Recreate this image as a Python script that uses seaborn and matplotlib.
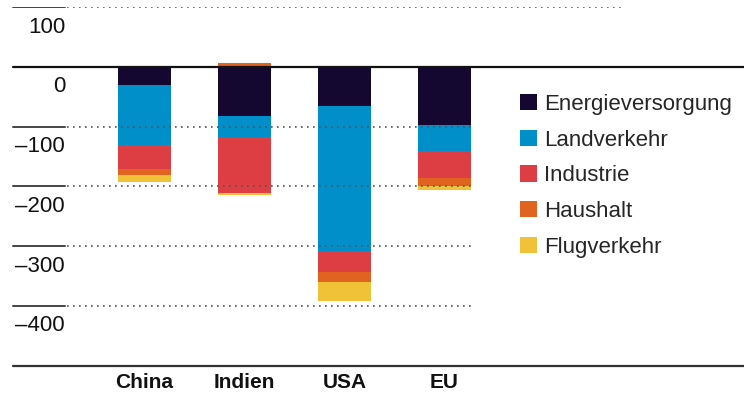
import numpy as np
import matplotlib
matplotlib.use("Agg")
import matplotlib.pyplot as plt
import matplotlib.transforms as mtransforms
from matplotlib.patches import Patch
import seaborn as sns

# data (Mio. t CO2, change per region)
regions = ["China", "Indien", "USA", "EU"]
sectors = ["Energieversorgung", "Landverkehr", "Industrie", "Haushalt", "Flugverkehr"]
energie = [-31, -82, -65, -97]
landverkehr = [-100, -36, -243, -44]
industrie = [-40, -93, -35, -45]
haushalt = [-10, 6, -17, -14]
flugverkehr = [-11, -3, -31, -6]
colors = ["#150830", "#008fc8", "#dd3e44", "#e0641f", "#f0c238"]
ytick_values = [100, 0, -100, -200, -300, -400]
ytick_labels = ["100", "0", "–100", "–200", "–300", "–400"]

sns.set_theme(style="white")
plt.rcParams["font.family"] = ["Liberation Sans", "DejaVu Sans"]

fig = plt.figure(figsize=(7.44, 3.96), dpi=100)
ax = fig.add_axes([0, 0.0765, 1, 0.9058])

series = [energie, landverkehr, industrie, haushalt, flugverkehr]
vals = np.array(series, dtype=float)
neg_cum = np.cumsum(np.where(vals < 0, vals, 0), axis=0)
pos_cum = np.cumsum(np.where(vals > 0, vals, 0), axis=0)

# draw cumulative bars from the outermost layer inwards so that inner layers cover
for i in range(len(sectors) - 1, -1, -1):
    sns.barplot(x=regions, y=neg_cum[i], color=colors[i], width=0.53,
                saturation=1, linewidth=0, ax=ax, order=regions)
    sns.barplot(x=regions, y=pos_cum[i], color=colors[i], width=0.53,
                saturation=1, linewidth=0, ax=ax, order=regions)

ax.set_ylim(-500, 100)
ax.set_xlim(-1.445, 5.995)
for s in ax.spines.values():
    s.set_visible(False)
ax.set_yticks([])
ax.set_xlabel("")
ax.set_ylabel("")
ax.tick_params(axis="x", length=0, pad=5.5)
for lab in ax.get_xticklabels():
    lab.set_fontweight("bold")
    lab.set_fontsize(15)
    lab.set_color("#111111")

left_end = 0.0875
for v, lab in zip(ytick_values, ytick_labels):
    if v == 0:
        ax.axhline(v, xmin=0.0175, xmax=1, color="#111111", lw=1.6, zorder=5)
    else:
        ax.axhline(v, xmin=0.0175, xmax=left_end, color="#444444", lw=1.4, zorder=5)
        right = 0.84 if v == 100 else 0.638
        ax.axhline(v, xmin=left_end + 0.003, xmax=right, color="#555555", lw=1.2,
                   linestyle=(0, (1, 2.6)), zorder=5)
    tr = mtransforms.offset_copy(ax.get_yaxis_transform(), fig=fig, x=0, y=-20, units="dots")
    ax.text(left_end, v, lab, transform=tr, ha="right", va="center",
            fontsize=16, color="#111111")
ax.axhline(-500, xmin=0.0175, xmax=1, color="#333333", lw=1.6, zorder=5, clip_on=False)

handles = [Patch(facecolor=c, edgecolor="none") for c in colors]
ax.legend(handles, sectors, loc="upper left", bbox_to_anchor=(0.687, 0.785),
          bbox_transform=fig.transFigure, frameon=False, fontsize=16,
          handlelength=0.76, handleheight=0.76, handletextpad=0.33,
          labelspacing=0.66, borderaxespad=0)

fig.savefig("out.png", dpi=100)
